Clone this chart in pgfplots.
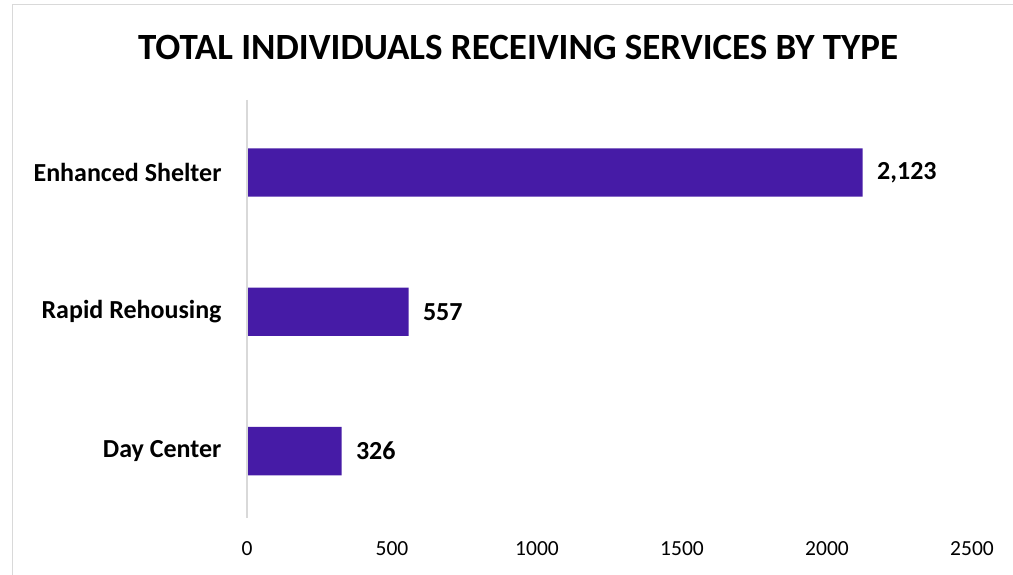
\documentclass[border=0pt]{standalone}
\usepackage{pgfplots}
\pgfplotsset{compat=1.18}
\usepackage{fontspec}
\setmainfont{Carlito}
\definecolor{barpurple}{RGB}{70,27,166}
\definecolor{framegray}{RGB}{217,217,217}
\begin{document}
\begin{tikzpicture}[x=1bp,y=1bp]
\path[use as bounding box] (0,0) rectangle (1013,575);
\draw[framegray, line width=1.5bp] (12.5,-2) -- (12.5,570.5) -- (1015,570.5);
\node[font=\fontsize{37bp}{42bp}\selectfont\bfseries] at (518,527) {TOTAL INDIVIDUALS RECEIVING SERVICES BY TYPE};
\begin{axis}[
  at={(247bp,57bp)}, anchor=south west,
  scale only axis, width=725bp, height=418bp,
  xmin=0, xmax=2500, ymin=-0.52, ymax=2.48,
  y dir=reverse,
  xbar, bar width=0.347,
  bar shift=0pt,
  axis line style={draw=none},
  axis x line=none,
  ytick={0,1,2},
  yticklabels={Enhanced Shelter,Rapid Rehousing,Day Center},
  yticklabel style={font=\fontsize{26bp}{30bp}\selectfont\bfseries, xshift=-22bp},
  major tick length=0pt,
  xtick=\empty,
  clip=false,
  /pgf/number format/assume math mode=true,
  nodes near coords={\pgfmathprintnumber[1000 sep={,},assume math mode=true]{\pgfplotspointmeta}},
  nodes near coords style={font=\fontsize{26bp}{30bp}\selectfont\bfseries, anchor=west, xshift=11bp, text=black},
  point meta=x,
]
\addplot[fill=barpurple, draw=none] coordinates {(2123,0) (557,1) (326,2)};
\draw[framegray, line width=1.5bp] (axis cs:0,-0.52) -- (axis cs:0,2.48);
\foreach \v in {0,500,1000,1500,2000,2500} {
  \edef\tmp{\noexpand\node[font=\noexpand\fontsize{21.5bp}{25bp}\noexpand\selectfont] at (axis cs:\v,2.48) [yshift=-31bp] {\v};}
  \tmp
}
\end{axis}
\end{tikzpicture}
\end{document}
